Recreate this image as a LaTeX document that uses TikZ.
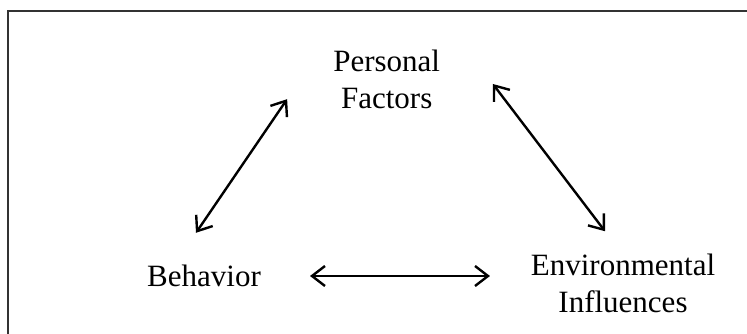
\documentclass[tikz,border=0pt]{standalone}
\usepackage{fontspec}
\setmainfont{Liberation Serif}
\usetikzlibrary{arrows.meta}
\begin{document}
\begin{tikzpicture}[x=1pt,y=-1pt,
  factor/.style={inner sep=0pt, align=center, font=\fontsize{31}{36.7}\selectfont},
  link/.style={line width=2.4pt, {Straight Barb[length=13pt,width=20pt]}-{Straight Barb[length=13pt,width=20pt]}}]
  \useasboundingbox (0,0) rectangle (747,334);
  \draw[line width=1.1pt, black!80] (8,334) -- (8,11) -- (747,11);
  \node[factor] (pf) at (386.7,79.4) {Personal\\Factors};
  \node[factor] (beh) at (204,275.4) {Behavior};
  \node[factor] (env) at (623,283.7) {Environmental\\Influences};
  % reciprocal links
  \draw[link] ([xshift=-8pt,yshift=31.5pt]beh.north) -- ([xshift=-46pt,yshift=9.7pt]pf.south west);
  \draw[link] ([xshift=52.6pt,yshift=-4.6pt]pf.east) -- ([xshift=-18pt,yshift=23pt]env.north);
  \draw[link] ([xshift=49pt,yshift=-0.6pt]beh.east) -- ([xshift=-40.7pt,yshift=7.7pt]env.west);
\end{tikzpicture}
\end{document}
